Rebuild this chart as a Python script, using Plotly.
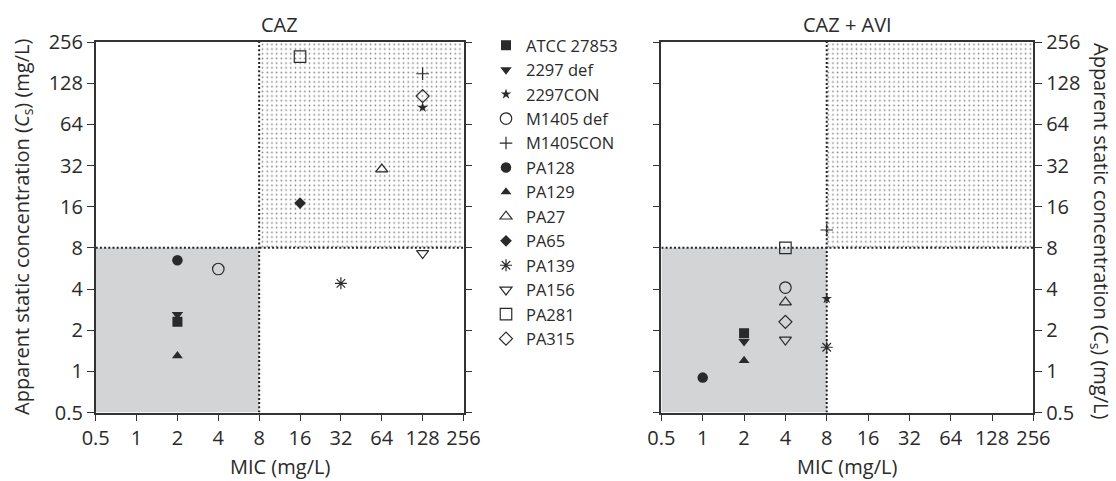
import math
import plotly.graph_objects as go

# ---------------- data ----------------
strains = ["ATCC 27853", "2297 def", "2297CON", "M1405 def", "M1405CON", "PA128",
           "PA129", "PA27", "PA65", "PA139", "PA156", "PA281", "PA315"]
caz_mic = [2, 2, 128, 4, 128, 2, 2, 64, 16, 32, 128, 16, 128]
caz_cs = [2.3, 2.6, 85, 5.6, 150, 6.5, 1.3, 30, 17, 4.4, 7.3, 200, 103]
avi_mic = [2, 2, 8, 4, 8, 1, 2, 4, None, 8, 4, 4, 4]
avi_cs = [1.9, 1.65, 3.4, 4.1, 10.8, 0.9, 1.2, 3.2, None, 1.5, 1.7, 8, 2.3]

tick_vals = [0.5, 1, 2, 4, 8, 16, 32, 64, 128, 256]
tick_text = ["0.5", "1", "2", "4", "8", "16", "32", "64", "128", "256"]
bp = 8            # breakpoint
lo, hi = 0.5, 256  # axis limits

panel_titles = ["CAZ", "CAZ + AVI"]
x_title = "MIC (mg/L)"
y_title = "Apparent static concentration (<i>C</i><sub>s</sub>) (mg/L)"

# ---------------- styles ----------------
INK = "#2a2a2a"
FONT = "Open Sans"
styles = [
    dict(symbol="square", size=10),
    dict(symbol="triangle-down", size=10),
    dict(symbol="star", size=8),
    dict(symbol="circle-open", size=11.5),
    dict(symbol="cross-thin-open", size=9),
    dict(symbol="circle", size=10.5),
    dict(symbol="triangle-up", size=9.5),
    dict(symbol="triangle-up-open", size=10.5),
    dict(symbol="diamond", size=9),
    dict(symbol="asterisk-open", size=10),
    dict(symbol="triangle-down-open", size=10.5),
    dict(symbol="square-open", size=11.5),
    dict(symbol="diamond-open", size=10),
]

W, H = 1116, 481
dom_x = [[95.7 / W, 463.5 / W], [661.4 / W, 1033.4 / W]]
dom_y = [1 - 412.5 / H, 1 - 42.0 / H]

fig = go.Figure()

axes = [("x", "y"), ("x2", "y2")]
for xa, ya in axes:
    # grey susceptible quadrant
    fig.add_trace(go.Scatter(x=[lo, bp, bp, lo, lo], y=[lo, lo, bp, bp, lo], mode="lines",
                             fill="toself", fillcolor="#d3d4d6", line=dict(width=0),
                             xaxis=xa, yaxis=ya, showlegend=False, hoverinfo="skip"))
    # stippled resistant quadrant
    fig.add_trace(go.Scatter(x=[bp, hi, hi, bp, bp], y=[bp, bp, hi, hi, bp], mode="lines",
                             fill="toself", line=dict(width=0),
                             fillpattern=dict(shape=".", size=4.7, solidity=0.1,
                                              fgcolor="#000", bgcolor="white"),
                             xaxis=xa, yaxis=ya, showlegend=False, hoverinfo="skip"))
    # dotted breakpoint lines
    fig.add_trace(go.Scatter(x=[lo, hi], y=[bp, bp], mode="lines",
                             line=dict(color="#222", width=2, dash="2px,2.2px"),
                             xaxis=xa, yaxis=ya, showlegend=False, hoverinfo="skip"))
    fig.add_trace(go.Scatter(x=[bp, bp], y=[lo, hi], mode="lines",
                             line=dict(color="#222", width=2, dash="2px,2.2px"),
                             xaxis=xa, yaxis=ya, showlegend=False, hoverinfo="skip"))

for i, name in enumerate(strains):
    st = styles[i]
    is_open = st["symbol"].endswith("open")
    marker = dict(symbol=st["symbol"], size=st["size"], color=INK,
                  line=dict(color=INK, width=1.2 if is_open else 0))
    fig.add_trace(go.Scatter(x=[caz_mic[i]], y=[caz_cs[i]], mode="markers", name=name,
                             marker=marker, xaxis="x", yaxis="y", showlegend=True))
    if avi_mic[i] is not None:
        fig.add_trace(go.Scatter(x=[avi_mic[i]], y=[avi_cs[i]], mode="markers", name=name,
                                 marker=marker, xaxis="x2", yaxis="y2", showlegend=False))

ax_common = dict(type="log", range=[math.log10(lo), math.log10(hi)],
                 tickmode="array", tickvals=tick_vals, ticktext=tick_text,
                 ticks="outside", ticklen=7, tickwidth=1.3, tickcolor="#333",
                 showline=True, linecolor="#333", linewidth=1.5,
                 showgrid=False, zeroline=False, fixedrange=True, automargin=False,
                 tickfont=dict(family=FONT, size=20, color=INK))

fig.update_layout(
    width=W, height=H, margin=dict(l=0, r=0, t=0, b=0, autoexpand=False),
    paper_bgcolor="white", plot_bgcolor="white", hovermode=False,
    xaxis=dict(ax_common, domain=dom_x[0], anchor="y", mirror=True),
    yaxis=dict(ax_common, domain=dom_y, anchor="x", mirror="allticks"),
    xaxis2=dict(ax_common, domain=dom_x[1], anchor="y2", mirror=True),
    yaxis2=dict(ax_common, domain=dom_y, anchor="x2", side="right", mirror="allticks"),
    legend=dict(x=486 / W, y=1 - 28 / H, xanchor="left", yanchor="top",
                font=dict(family=FONT, size=16.5, color=INK), bgcolor="rgba(0,0,0,0)",
                tracegroupgap=0, itemsizing="trace"),
    font=dict(family=FONT, color=INK),
)

ann = []
for k in range(2):
    cx = (dom_x[k][0] + dom_x[k][1]) / 2
    ann.append(dict(text=panel_titles[k], x=cx, y=1 - 25 / H, xref="paper", yref="paper",
                    xanchor="center", yanchor="middle", showarrow=False,
                    font=dict(family=FONT, size=20, color=INK)))
    ann.append(dict(text=x_title, x=cx, y=0, xref="paper", yref="paper",
                    xanchor="center", yanchor="bottom", showarrow=False, borderpad=0,
                    font=dict(family=FONT, size=20, color=INK)))
ann.append(dict(text=y_title, x=22 / W, y=1 - 227 / H, xref="paper", yref="paper",
                xanchor="center", yanchor="middle", showarrow=False, textangle=-90,
                font=dict(family=FONT, size=20, color=INK)))
ann.append(dict(text=y_title, x=1101 / W, y=1 - 231 / H, xref="paper", yref="paper",
                xanchor="center", yanchor="middle", showarrow=False, textangle=90,
                borderpad=0, font=dict(family=FONT, size=20, color=INK)))
fig.update_layout(annotations=ann)

fig.write_html("out.html")
